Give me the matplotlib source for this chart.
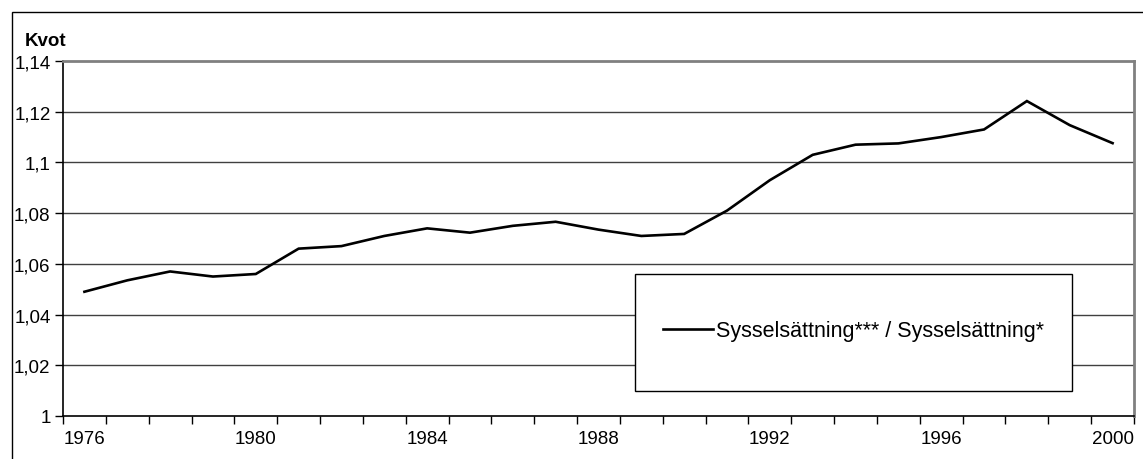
"""Kvot mellan sysselsättningsmått 1976-2000."""

import matplotlib

matplotlib.use("Agg")
from matplotlib import pyplot as plt
from matplotlib.patches import Rectangle
from matplotlib.ticker import FixedLocator

plt.rcParams["font.family"] = ["Liberation Sans", "DejaVu Sans"]

years = list(range(1976, 2001))
kvot = [
    1.049, 1.0535, 1.057, 1.055, 1.056, 1.066, 1.067, 1.071, 1.074, 1.0723,
    1.075, 1.0766, 1.0735, 1.071, 1.0718, 1.081, 1.093, 1.103, 1.107, 1.1075,
    1.110, 1.113, 1.1242, 1.1147, 1.1076,
]
series_label = "Sysselsättning*** / Sysselsättning*"
y_ticks = [1.0, 1.02, 1.04, 1.06, 1.08, 1.1, 1.12, 1.14]
y_labels = ["1", "1,02", "1,04", "1,06", "1,08", "1,1", "1,12", "1,14"]
x_label_years = [1976, 1980, 1984, 1988, 1992, 1996, 2000]

fs = 13.5
legend_fs = 15.5

fig = plt.figure(figsize=(11.43, 4.6), dpi=100)

# outer chart frame
fig.patches.append(
    Rectangle((12 / 1143, -0.05), 1.1, 1.05 - 13 / 460,
              transform=fig.transFigure, fill=False, edgecolor="black",
              linewidth=1.0)
)

ax = fig.add_axes([63 / 1143, 43 / 460, 1071 / 1143, 355 / 460])

ax.plot(years, kvot, color="black", linewidth=1.9, label=series_label,
        solid_joinstyle="miter")

ax.set_xlim(1975.5, 2000.5)
ax.set_ylim(1.0, 1.14)

# horizontal gridlines
for y in y_ticks[1:-1]:
    ax.axhline(y, color="#404040", linewidth=1.0, zorder=0)

ax.set_yticks(y_ticks)
ax.set_yticklabels(y_labels, fontsize=fs)
ax.tick_params(axis="y", direction="out", length=6, width=1, pad=3)

ax.set_xticks(x_label_years)
ax.set_xticklabels([str(y) for y in x_label_years], fontsize=fs)
ax.tick_params(axis="x", which="major", length=0, pad=10)
ax.xaxis.set_minor_locator(FixedLocator([y - 0.5 for y in years] + [2000.5]))
ax.tick_params(axis="x", which="minor", direction="out", length=6, width=1)

for side in ("top", "right"):
    ax.spines[side].set_color("#808080")
    ax.spines[side].set_linewidth(2.0)
for side in ("left", "bottom"):
    ax.spines[side].set_color("black")
    ax.spines[side].set_linewidth(1.2)

# legend box
ax.add_patch(
    Rectangle((572 / 1071, 25 / 355), 437 / 1071, 117 / 355,
              transform=ax.transAxes, facecolor="white", edgecolor="black",
              linewidth=1.0, zorder=3)
)
leg = ax.legend(loc="center left", bbox_to_anchor=(600 / 1071, 85 / 355),
                frameon=False, fontsize=legend_fs, handlelength=2.3,
                handletextpad=0.15, borderpad=0, borderaxespad=0)
leg.set_zorder(4)

fig.text(25 / 1143, 1 - 42 / 460, "Kvot", fontsize=fs, fontweight="bold",
         ha="left", va="center")

fig.savefig("out.png", dpi=100)
